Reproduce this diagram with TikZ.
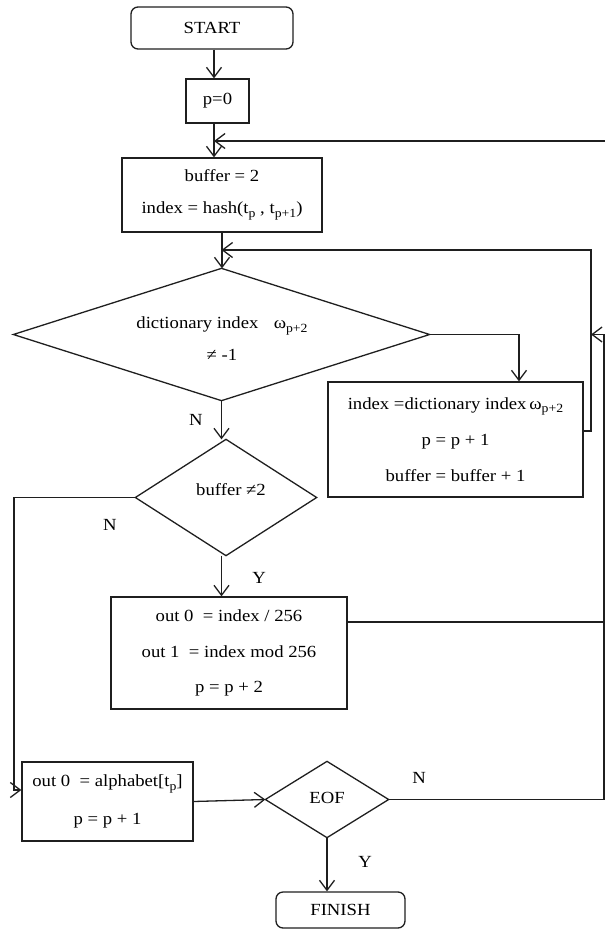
\documentclass[tikz,border=0pt]{standalone}
\usepackage{fontspec}
\setmainfont[FakeStretch=1.1]{Liberation Serif}
\usetikzlibrary{arrows.meta}
% lowered index for variable names
\newcommand\lo[1]{\raisebox{-3.5pt}{\fontsize{12.5}{12.5}\selectfont #1}}

\begin{document}
\begin{tikzpicture}[x=1pt,y=-1pt,
  line width=1.3pt, draw=black!88,
  font=\fontsize{17}{20}\selectfont,
  arr/.style={-{Straight Barb[length=10pt,width=15pt,line width=1.3pt]}},
  proc/.style={draw, rectangle, inner sep=0pt, align=center},
  term/.style={draw, rectangle, rounded corners=7pt, inner sep=0pt},
  dec/.style={rectangle, inner sep=0pt},
  txt/.style={inner sep=0pt, align=center},
  lab/.style={inner sep=0pt}]
\useasboundingbox (0,0) rectangle (605,929);

% terminals and process boxes
\node[term, minimum width=162pt, minimum height=42pt] (start) at (212,28) {START};
\node[proc, minimum width=63pt, minimum height=44pt] (p0) at (217.5,101) {p=0};
\node[proc, minimum width=200pt, minimum height=74pt,
      font=\fontsize{17}{32}\selectfont] (buf) at (222,195)
  {buffer = 2\\index = hash(t\lo{p} , t\lo{p+1})};
\node[proc, minimum width=255pt, minimum height=115pt,
      font=\fontsize{17}{36}\selectfont] (dict) at (455.5,439.5)
  {index =dictionary index\,ω\lo{p+2}\\p = p + 1\\buffer = buffer + 1};
\node[proc, minimum width=236pt, minimum height=112pt,
      font=\fontsize{17}{35.5}\selectfont] (out) at (229,653)
  {out 0\ \ = index / 256\\out 1\ \ = index mod 256\\p = p + 2};
\node[proc, minimum width=171pt, minimum height=79pt,
      font=\fontsize{17}{38}\selectfont] (alpha) at (107.5,801.5)
  {out 0\ \ = alphabet[t\lo{p}]\\p = p + 1};
\node[term, minimum width=129pt, minimum height=36pt] (fin) at (340.5,910) {FINISH};

% decisions: diamonds drawn through the side midpoints of a frame node
\node[dec, minimum width=415pt, minimum height=131pt] (d1) at (221.5,334.5) {};
\node[dec, minimum width=180pt, minimum height=115pt] (d2) at (226,497.5) {};
\node[dec, minimum width=122pt, minimum height=75pt] (eof) at (327,799.5) {};
\foreach \d in {d1,d2,eof}
  \draw (\d.west) -- (\d.north) -- (\d.east) -- (\d.south) -- cycle;
\node[txt, font=\fontsize{17}{32}\selectfont] (d1t) at (222,339)
  {dictionary index\hspace{0.9em}ω\lo{p+2}\\≠ -1};
\node[txt] (d2t) at (231,490) {buffer ≠2};
\node[txt] (eoft) at (327,798) {EOF};

% routing columns
\coordinate (ax) at (214,0);
\coordinate (c1) at (519,0);
\coordinate (rc) at (591,250);
\coordinate (rr) at (604,0);
\coordinate (lc) at (14,0);
\coordinate (tr) at (606,141);

% connectors
\draw[arr] (start.south -| ax) -- (p0.north -| ax);
\draw[arr] (p0.south -| ax) -- (buf.north -| ax);
\draw[arr] (tr) -- (tr -| ax);
\draw[arr] (buf.south) -- (buf.south |- d1.north);
\draw[arr] (d1.east) -| (c1 |- dict.north);
\draw[arr] ([yshift=8.5pt]dict.east) -| (rc) -- (rc -| d1.north);
\draw[arr] (d1.south) -- (d1.south |- d2.north);
\draw[arr] (d2.west) -| ([yshift=11.5pt]alpha.west -| lc) -- ([yshift=11.5pt]alpha.west);
\draw[arr] (d2.south -| d1.south) -- (out.north -| d1.south);
\draw ([yshift=31pt]out.east) -- ([yshift=31pt]out.east -| rr);
\draw[arr] (alpha.east) -- (eof.west);
\draw[arr] (eof.east) -| (rr |- d1.east) -- (rc |- d1.east);
\draw[arr] (eof.south) -- (eof.south |- fin.north);

% branch labels
\node[lab] (n1) at (196,420) {N};
\node[lab] (n2) at (110,525) {N};
\node[lab] (y1) at (259,578) {Y};
\node[lab] (n3) at (419,778) {N};
\node[lab] (y2) at (365,862) {Y};
\end{tikzpicture}
\end{document}
